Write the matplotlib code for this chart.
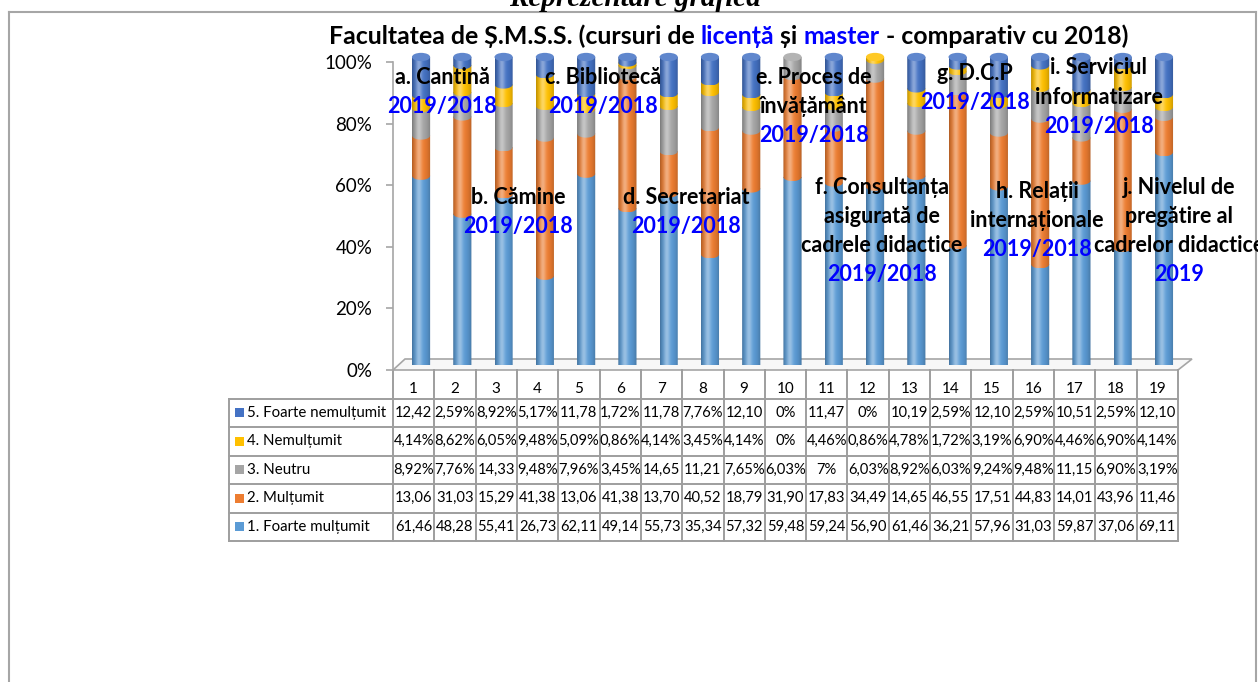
import matplotlib
matplotlib.use("Agg")
import matplotlib.pyplot as plt
import numpy as np
from matplotlib.patches import Ellipse, Polygon, Rectangle
from matplotlib.colors import to_rgb

plt.rcParams['font.family'] = ['Lato', 'DejaVu Sans']

# date (procente, citite din tabel)
categories = [str(i) for i in range(1, 20)]
series_names = ["1. Foarte mulțumit", "2. Mulțumit", "3. Neutru",
                "4. Nemulțumit", "5. Foarte nemulțumit"]
colors = ["#5B9BD5", "#ED7D31", "#A5A5A5", "#FFC000", "#4472C4"]

foarte_multumit = [61.46, 48.28, 55.41, 26.73, 62.11, 49.14, 55.73, 35.34, 57.32, 59.48,
                   59.24, 56.90, 61.46, 36.21, 57.96, 31.03, 59.87, 37.06, 69.11]
multumit = [13.06, 31.03, 15.29, 41.38, 13.06, 41.38, 13.70, 40.52, 18.79, 31.90,
            17.83, 34.49, 14.65, 46.55, 17.51, 44.83, 14.01, 43.96, 11.46]
neutru = [8.92, 7.76, 14.33, 9.48, 7.96, 3.45, 14.65, 11.21, 7.65, 6.03,
          7, 6.03, 8.92, 6.03, 9.24, 9.48, 11.15, 6.90, 3.19]
nemultumit = [4.14, 8.62, 6.05, 9.48, 5.09, 0.86, 4.14, 3.45, 4.14, 0,
              4.46, 0.86, 4.78, 1.72, 3.19, 6.90, 4.46, 6.90, 4.14]
foarte_nemultumit = [12.42, 2.59, 8.92, 5.17, 11.78, 1.72, 11.78, 7.76, 12.10, 0,
                     11.47, 0, 10.19, 2.59, 12.10, 2.59, 10.51, 2.59, 12.10]

group_lines = [["a. Cantină"], ["b. Cămine"], ["c. Bibliotecă"], ["d. Secretariat"],
               ["e. Proces de", "învățământ"],
               ["f. Consultanța", "asigurată de", "cadrele didactice"],
               ["g. D.C.P"], ["h. Relații", "internaționale"],
               ["i. Serviciul", "informatizare"],
               ["j. Nivelul de", "pregătire al", "cadrelor didactice"]]
group_years = ["2019/2018"] * 9 + ["2019"]
# pozitia (px) a primului rand din fiecare eticheta
group_pos = [(442, 77), (518, 197), (603, 77), (686, 197), (814, 77),
             (882, 187), (975, 73), (1037, 191), (1099, 68), (1179, 187)]

series = [foarte_multumit, multumit, neutru, nemultumit, foarte_nemultumit]

W, H = 1258, 682
fig = plt.figure(figsize=(W / 100, H / 100), dpi=100)


def fr(x0, y0, x1, y1):
    return [x0 / W, 1 - y1 / H, (x1 - x0) / W, (y1 - y0) / H]


def fmt(v):
    if float(v) == int(v):
        return f"{int(v)}%"
    s = f"{v:.2f}".replace(".", ",")
    return s if v >= 10 else s + "%"


# fundal: chenar, podea, tabel
bg = fig.add_axes([0, 0, 1, 1], zorder=0)
bg.set_xlim(0, W)
bg.set_ylim(H, 0)
bg.axis("off")
fc = "#A6A6A6"
bg.plot([9, 1256], [12, 12], color=fc, lw=1.5)
bg.plot([9, 9], [12, H], color=fc, lw=1.5)
bg.plot([1256, 1256], [12, H], color=fc, lw=1.5)
bg.add_patch(Polygon([(393, 370), (1178, 370), (1192, 359), (405, 359)], closed=True,
                     facecolor="#F7F7F7", edgecolor=fc, lw=1.2))

gc = "#9E9E9E"
tx0, tx1 = 393, 1178
cw = (tx1 - tx0) / 19
ty0, rh = 398.7, 28.46
for r in range(6):
    bg.plot([229, tx1], [ty0 + r * rh] * 2, color=gc, lw=1.4)
bg.plot([229, 229], [ty0, ty0 + 5 * rh], color=gc, lw=1.4)
for k in range(20):
    bg.plot([tx0 + k * cw] * 2, [370, ty0 + 5 * rh], color=gc, lw=1.4)
for i, c in enumerate(categories):
    bg.text(tx0 + (i + 0.5) * cw, 389, c, ha="center", va="center", fontsize=11)
for r in range(5):
    s = 4 - r
    yc = ty0 + (r + 0.5) * rh
    bg.add_patch(Rectangle((235, yc - 4.5), 9, 9, color=colors[s], lw=0))
    bg.text(247, yc, series_names[s], ha="left", va="center", fontsize=10.8)
    for i, v in enumerate(series[s]):
        bg.text(tx0 + (i + 0.5) * cw, yc, fmt(v), ha="center", va="center", fontsize=10.6)

# axa y
tax = fig.add_axes(fr(393, 62, 1178, 370), zorder=1)
tax.patch.set_visible(False)
tax.set_ylim(0, 1)
tax.set_xlim(0, 1)
ticks = np.arange(0, 1.01, 0.2)
tax.set_yticks(ticks)
tax.set_yticklabels([f"{int(round(t * 100))}%" for t in ticks])
tax.set_xticks([])
for sp in ["top", "right", "bottom"]:
    tax.spines[sp].set_visible(False)
tax.spines["left"].set_color(fc)
tax.spines["left"].set_linewidth(1.2)
tax.tick_params(axis="y", length=5, width=1.2, color=fc, pad=10, labelsize=13.5)

# bare cilindrice 100% stivuite
bx = fig.add_axes(fr(400.4, 57, 1184.6, 365), zorder=2)
bx.patch.set_visible(False)
bx.axis("off")
x = np.arange(len(categories))
vals = np.array(series, dtype=float)
totals = vals.sum(axis=0)
norm = vals / totals * 100
bw = 0.44
eh = 2.7  # inaltimea elipsei in unitati de date

t = np.linspace(0, 1, 64)
shade = 0.72 + 0.28 * np.sin(np.pi * t) ** 0.6
hl = 0.38 * np.exp(-((t - 0.36) / 0.17) ** 2)


def grad(col):
    rgb = np.array(to_rgb(col))
    img = rgb[None, :] * shade[:, None]
    img = img * (1 - hl[:, None]) + hl[:, None]
    return np.clip(img[None, :, :], 0, 1)


bottom = np.zeros(len(x))
for s in range(5):
    bars = bx.bar(x, norm[s], width=bw, bottom=bottom, color=colors[s], lw=0)
    for p in bars:
        if p.get_height() <= 0:
            continue
        x0, y0 = p.get_x(), p.get_y()
        w, h = p.get_width(), p.get_height()
        p.set_visible(False)
        th = np.linspace(np.pi, 2 * np.pi, 40)
        arc = [(x0 + w / 2 + w / 2 * np.cos(a), y0 + eh / 2 * np.sin(a)) for a in th]
        poly = [(x0, y0 + h)] + arc + [(x0 + w, y0 + h)]
        pp = Polygon(poly, closed=True, transform=bx.transData, fc="none", ec="none")
        bx.add_patch(pp)
        im = bx.imshow(grad(colors[s]), extent=[x0, x0 + w, y0 - eh / 2, y0 + h],
                       aspect="auto", interpolation="bilinear", zorder=2)
        im.set_clip_path(pp)
    bottom = bottom + norm[s]

top_idx = [max(s for s in range(5) if norm[s][i] > 0) for i in range(len(x))]
for i in x:
    base = np.array(to_rgb(colors[top_idx[i]]))
    capc = base * 0.85 + 0.15
    bx.add_patch(Ellipse((i, 100), bw, eh, facecolor=capc, edgecolor="none",
                         zorder=3, clip_on=False))
bx.set_xlim(-0.5, len(x) - 0.5)
bx.set_ylim(0, 100)

# texte
fg = fig.add_axes([0, 0, 1, 1], zorder=3)
fg.patch.set_visible(False)
fg.set_xlim(0, W)
fg.set_ylim(H, 0)
fg.axis("off")

lab_kw = dict(fontsize=15.5, fontweight="bold", ha="center", va="center")
for lines, yr, (gx, gy) in zip(group_lines, group_years, group_pos):
    for k, ln in enumerate(lines):
        fg.text(gx, gy + k * 29.3, ln, color="black", **lab_kw)
    fg.text(gx, gy + len(lines) * 29.3, yr, color="#0000FF", **lab_kw)

# titlu multicolor
pieces = [("Facultatea de Ș.M.S.S. (cursuri de ", "black"), ("licență", "#0000FF"),
          (" și ", "black"), ("master", "#0000FF"), (" - comparativ cu 2018)", "black")]
r = fig.canvas.get_renderer()
tkw = dict(fontsize=17.9, fontweight="bold", va="center", ha="left")


def width_of(s):
    tt = fg.text(0, 0, s + "|", **tkw)
    t2 = fg.text(0, 0, "|", **tkw)
    w = tt.get_window_extent(r).width - t2.get_window_extent(r).width
    tt.remove()
    t2.remove()
    return w


full = "".join(p for p, _ in pieces)
total_w = width_of(full)
xs = 728.5 - total_w / 2
acc = ""
for p, c in pieces:
    fg.text(xs + width_of(acc) if acc else xs, 36, p, color=c, **tkw)
    acc += p

fig.text(635 / W, 1 - 6 / H, "Reprezentare grafică", ha="center", va="baseline",
         family=["Liberation Serif", "DejaVu Serif"], fontweight="bold",
         fontstyle="italic", fontsize=21)

fig.savefig("out.png", dpi=100, facecolor="white")
